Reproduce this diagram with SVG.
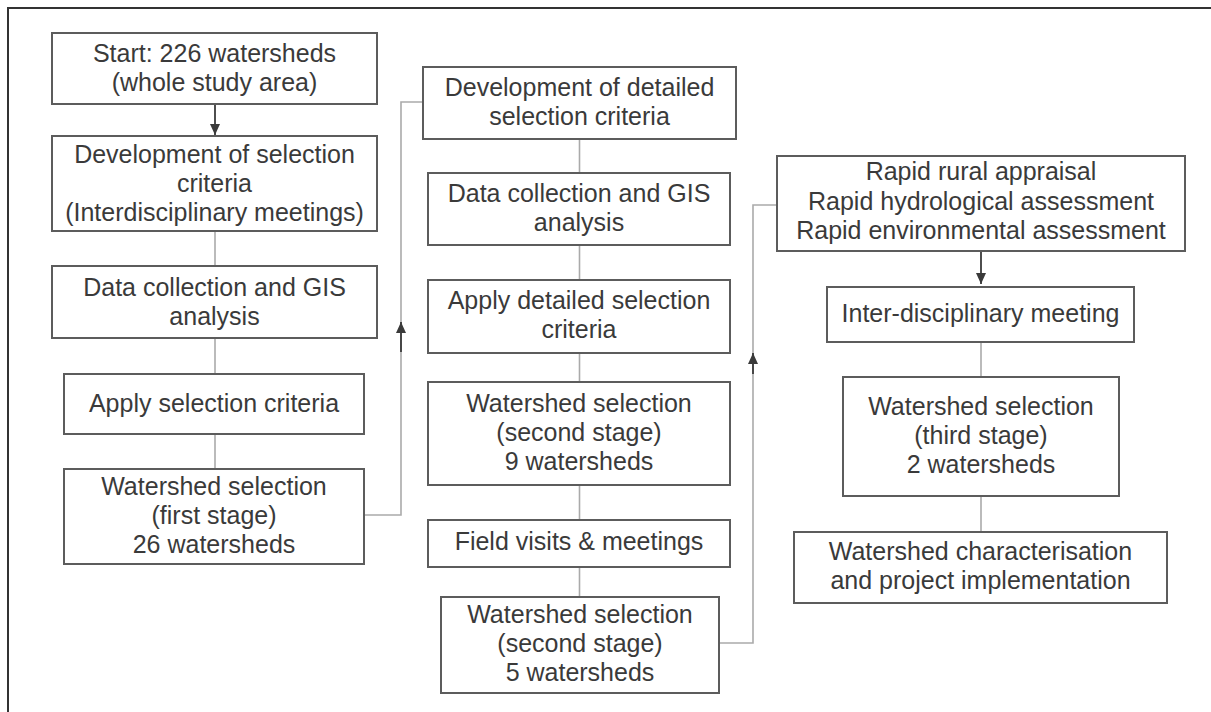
<svg xmlns="http://www.w3.org/2000/svg" width="1211" height="712" viewBox="0 0 1211 712">
<style>
.box{fill:#fff;stroke:#5c5c5c;stroke-width:2}
.t{font-family:"Liberation Sans",Arial,sans-serif;font-size:25px;fill:#3a3a3a;text-anchor:middle}
.ln{fill:none;stroke:#aaaaaa;stroke-width:1.6}
.ar{fill:none;stroke:#3a3a3a;stroke-width:1.8;marker-end:url(#ah)}
</style>
<defs>
<marker id="ah" markerUnits="userSpaceOnUse" markerWidth="12" markerHeight="10" refX="11" refY="5" orient="auto">
<path d="M0,0 L11,5 L0,10 z" fill="#3a3a3a"/>
</marker>
</defs>
<rect width="1211" height="712" fill="#fff"/>
<path d="M8,712 V8 H1211" fill="none" stroke="#333" stroke-width="2"/>

<g id="connectors">
<path class="ar" d="M215,104 V135"/>
<path class="ln" d="M215,231 V266"/>
<path class="ln" d="M215,338 V374"/>
<path class="ln" d="M215,434 V469"/>
<path class="ln" d="M364,515 H401 V102 H423"/>
<path class="ar" d="M401,352 V322"/>
<path class="ln" d="M579.5,139 V173"/>
<path class="ln" d="M579.5,245 V280"/>
<path class="ln" d="M579.5,353 V382"/>
<path class="ln" d="M579.5,485 V520"/>
<path class="ln" d="M579.5,567 V597"/>
<path class="ln" d="M719,643 H753 V205 H777"/>
<path class="ar" d="M753,374 V353"/>
<path class="ar" d="M981,251 V284"/>
<path class="ln" d="M981,342 V377"/>
<path class="ln" d="M981,496 V532"/>
</g>

<g id="n1"><rect class="box" x="52" y="33" width="325" height="71"/>
<text class="t" x="214.5" y="62">Start: 226 watersheds</text>
<text class="t" x="214.5" y="91">(whole study area)</text></g>

<g id="n2"><rect class="box" x="52" y="136" width="325" height="95"/>
<text class="t" x="214.5" y="163">Development of selection</text>
<text class="t" x="214.5" y="192">criteria</text>
<text class="t" x="214.5" y="221">(Interdisciplinary meetings)</text></g>

<g id="n3"><rect class="box" x="52" y="266" width="325" height="72"/>
<text class="t" x="214.5" y="295.5">Data collection and GIS</text>
<text class="t" x="214.5" y="324.5">analysis</text></g>

<g id="n4"><rect class="box" x="64" y="374" width="300" height="60"/>
<text class="t" x="214" y="411.5">Apply selection criteria</text></g>

<g id="n5"><rect class="box" x="64" y="469" width="300" height="95"/>
<text class="t" x="214" y="495">Watershed selection</text>
<text class="t" x="214" y="524">(first stage)</text>
<text class="t" x="214" y="553">26 watersheds</text></g>

<g id="n6"><rect class="box" x="423" y="67" width="313" height="72"/>
<text class="t" x="579.5" y="96">Development of detailed</text>
<text class="t" x="579.5" y="125">selection criteria</text></g>

<g id="n7"><rect class="box" x="428" y="173" width="302" height="72"/>
<text class="t" x="579" y="202">Data collection and GIS</text>
<text class="t" x="579" y="231">analysis</text></g>

<g id="n8"><rect class="box" x="428" y="280" width="302" height="73"/>
<text class="t" x="579" y="309">Apply detailed selection</text>
<text class="t" x="579" y="338">criteria</text></g>

<g id="n9"><rect class="box" x="428" y="382" width="302" height="103"/>
<text class="t" x="579" y="412">Watershed selection</text>
<text class="t" x="579" y="441">(second stage)</text>
<text class="t" x="579" y="470">9 watersheds</text></g>

<g id="n10"><rect class="box" x="428" y="520" width="302" height="47"/>
<text class="t" x="579" y="550">Field visits &amp; meetings</text></g>

<g id="n11"><rect class="box" x="441" y="597" width="278" height="96"/>
<text class="t" x="580" y="623">Watershed selection</text>
<text class="t" x="580" y="652">(second stage)</text>
<text class="t" x="580" y="681">5 watersheds</text></g>

<g id="n12"><rect class="box" x="777" y="156" width="408" height="95"/>
<text class="t" x="981" y="180">Rapid rural appraisal</text>
<text class="t" x="981" y="209.5">Rapid hydrological assessment</text>
<text class="t" x="981" y="239">Rapid environmental assessment</text></g>

<g id="n13"><rect class="box" x="827" y="287" width="307" height="55"/>
<text class="t" x="980.5" y="322">Inter-disciplinary meeting</text></g>

<g id="n14"><rect class="box" x="843" y="377" width="276" height="119"/>
<text class="t" x="981" y="415">Watershed selection</text>
<text class="t" x="981" y="444">(third stage)</text>
<text class="t" x="981" y="473">2 watersheds</text></g>

<g id="n15"><rect class="box" x="794" y="532" width="373" height="71"/>
<text class="t" x="980.5" y="560">Watershed characterisation</text>
<text class="t" x="980.5" y="589">and project implementation</text></g>
</svg>
